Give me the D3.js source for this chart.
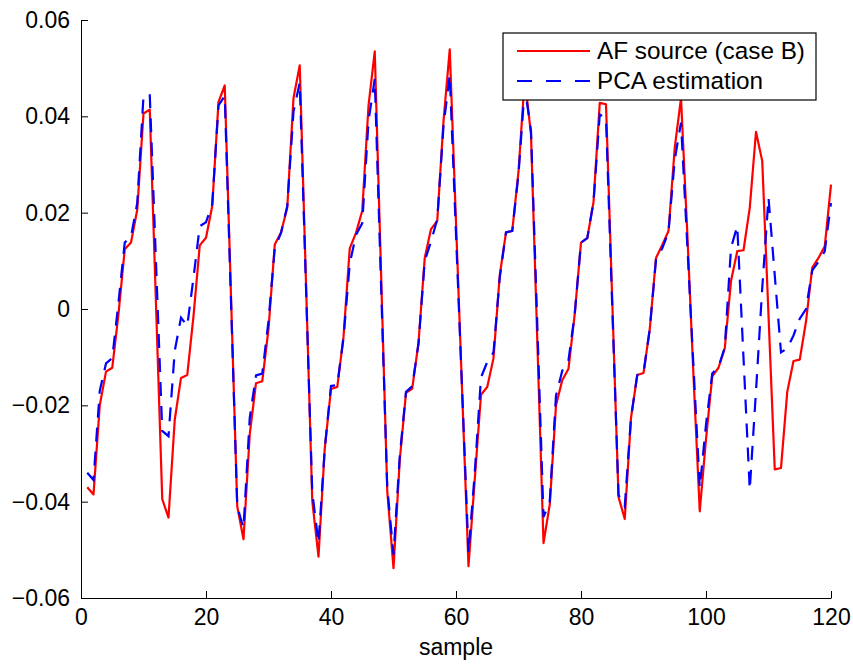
<!DOCTYPE html>
<html lang="en">
<head>
    <meta charset="UTF-8">
    <title>AF source vs PCA estimation</title>
    <script src="https://cdn.jsdelivr.net/npm/d3@7/dist/d3.min.js"></script>
    <style>
        body { margin: 0; background: #fff; }
        text { font-family: "Liberation Sans", Arial, Helvetica, sans-serif; fill: #000; }
    </style>
</head>
<body>
<svg id="main" width="853" height="664"></svg>
<script>
    // sample index 1..120
    const samples = d3.range(1, 121);

    // AF source (case B)
    const afSource = [
        -0.0370, -0.0385, -0.0200, -0.0130, -0.0122, -0.0010, 0.0124, 0.0138, 0.0206, 0.0406,
        0.0414, 0.0010, -0.0395, -0.0433, -0.0230, -0.0143, -0.0137, -0.0015, 0.0132, 0.0148,
        0.0214, 0.0430, 0.0464, 0.0027, -0.0410, -0.0478, -0.0260, -0.0154, -0.0150, -0.0042,
        0.0134, 0.0159, 0.0210, 0.0438, 0.0506, 0.0054, -0.0398, -0.0514, -0.0290, -0.0166,
        -0.0162, -0.0058, 0.0126, 0.0158, 0.0204, 0.0422, 0.0535, 0.0080, -0.0378, -0.0538,
        -0.0314, -0.0174, -0.0165, -0.0070, 0.0106, 0.0166, 0.0183, 0.0390, 0.0539, 0.0180,
        -0.0178, -0.0534, -0.0354, -0.0178, -0.0162, -0.0102, 0.0070, 0.0159, 0.0162, 0.0285,
        0.0480, 0.0362, -0.0062, -0.0486, -0.0406, -0.0200, -0.0148, -0.0124, -0.0010, 0.0138,
        0.0147, 0.0222, 0.0428, 0.0425, 0.0018, -0.0390, -0.0436, -0.0226, -0.0137, -0.0133,
        -0.0042, 0.0106, 0.0133, 0.0162, 0.0335, 0.0438, 0.0160, -0.0140, -0.0420, -0.0270,
        -0.0140, -0.0122, -0.0082, 0.0058, 0.0120, 0.0122, 0.0210, 0.0368, 0.0307, -0.0013,
        -0.0333, -0.0330, -0.0172, -0.0108, -0.0105, -0.0026, 0.0086, 0.0106, 0.0130, 0.0258
    ];

    // PCA estimation
    const pcaEstimate = [
        -0.0340, -0.0355, -0.0170, -0.0113, -0.0102, 0.0014, 0.0138, 0.0150, 0.0220, 0.0442,
        0.0446, 0.0096, -0.0253, -0.0264, -0.0087, -0.0018, -0.0035, 0.0065, 0.0172, 0.0180,
        0.0218, 0.0423, 0.0442, 0.0016, -0.0410, -0.0455, -0.0226, -0.0138, -0.0134, -0.0025,
        0.0126, 0.0158, 0.0214, 0.0410, 0.0470, 0.0045, -0.0380, -0.0486, -0.0290, -0.0160,
        -0.0158, -0.0060, 0.0094, 0.0154, 0.0178, 0.0390, 0.0478, 0.0054, -0.0370, -0.0510,
        -0.0306, -0.0172, -0.0160, -0.0072, 0.0100, 0.0140, 0.0186, 0.0380, 0.0486, 0.0155,
        -0.0175, -0.0506, -0.0340, -0.0142, -0.0110, -0.0090, 0.0065, 0.0159, 0.0162, 0.0280,
        0.0460, 0.0370, -0.0030, -0.0432, -0.0400, -0.0180, -0.0128, -0.0106, -0.0010, 0.0138,
        0.0147, 0.0222, 0.0404, 0.0396, 0.0005, -0.0386, -0.0410, -0.0226, -0.0137, -0.0133,
        -0.0042, 0.0102, 0.0126, 0.0160, 0.0310, 0.0387, 0.0135, -0.0120, -0.0371, -0.0240,
        -0.0134, -0.0120, -0.0080, 0.0127, 0.0172, -0.0101, -0.0375, -0.0170, 0.0044, 0.0231,
        0.0070, -0.0090, -0.0082, -0.0055, -0.0020, 0.0000, 0.0080, 0.0098, 0.0120, 0.0220
    ];

    const xTicks = [0, 20, 40, 60, 80, 100, 120];
    const yTicks = [-0.06, -0.04, -0.02, 0, 0.02, 0.04, 0.06];
    const yTickLabels = ['\u22120.06', '\u22120.04', '\u22120.02', '0', '0.02', '0.04', '0.06'];
    const seriesNames = ['AF source (case B)', 'PCA estimation'];
    const seriesColors = ['#ff0000', '#0000ff'];

    let svg = d3.select('svg#main');
    let plotLeft = 81, plotRight = 831, plotTop = 20, plotBottom = 598;
    let fontSize = 23;

    let x = d3.scaleLinear().domain([0, 120]).range([plotLeft, plotRight]);
    let y = d3.scaleLinear().domain([-0.06, 0.06]).range([plotBottom, plotTop]);

    let line = d3.line()
        .x(function(d, i) { return x(samples[i]); })
        .y(function(d) { return y(d); });

    // data lines
    svg.append('path')
        .datum(afSource)
        .attr('d', line)
        .attr('fill', 'none')
        .attr('stroke', seriesColors[0])
        .attr('stroke-width', 2.2)
        .attr('stroke-linejoin', 'round');

    svg.append('path')
        .datum(pcaEstimate)
        .attr('d', line)
        .attr('fill', 'none')
        .attr('stroke', seriesColors[1])
        .attr('stroke-width', 2.2)
        .attr('stroke-dasharray', '14,10');

    // axes, MATLAB style: inward ticks, no box
    let xAxis = svg.append('g')
        .attr('transform', 'translate(0,' + plotBottom + ')')
        .call(d3.axisBottom(x).tickValues(xTicks).tickSizeInner(-7).tickSizeOuter(0).tickPadding(11));

    let yAxis = svg.append('g')
        .attr('transform', 'translate(' + plotLeft + ',0)')
        .call(d3.axisLeft(y).tickValues(yTicks).tickSizeInner(-7).tickSizeOuter(0).tickPadding(11)
            .tickFormat(function(d, i) { return yTickLabels[i]; }));

    [xAxis, yAxis].forEach(function(g) {
        g.selectAll('text').style('font-size', fontSize + 'px').attr('fill', '#000')
            .style('font-family', '"Liberation Sans", Arial, sans-serif');
        g.selectAll('line').attr('stroke', '#000');
        g.select('.domain').attr('stroke', '#000');
    });

    svg.append('text')
        .attr('x', (plotLeft + plotRight) / 2)
        .attr('y', 655)
        .attr('text-anchor', 'middle')
        .style('font-size', fontSize + 'px')
        .text('sample');

    // legend
    let legend = svg.append('g').attr('transform', 'translate(503,33)');
    legend.append('rect')
        .attr('width', 313).attr('height', 67)
        .attr('fill', '#fff').attr('stroke', '#000').attr('stroke-width', 1.2);

    let entry = legend.selectAll('.entry').data(seriesNames)
        .enter().append('g')
        .attr('class', 'entry')
        .attr('transform', function(d, i) { return 'translate(0,' + (18 + i * 30) + ')'; });

    entry.append('line')
        .attr('x1', 14).attr('x2', 87)
        .attr('stroke', function(d, i) { return seriesColors[i]; })
        .attr('stroke-width', 2.2)
        .attr('stroke-dasharray', function(d, i) { return i === 1 ? '15,14' : null; });

    entry.append('text')
        .attr('x', 94).attr('y', 8)
        .style('font-size', '24.3px')
        .text(function(d) { return d; });
</script>
</body>
</html>
